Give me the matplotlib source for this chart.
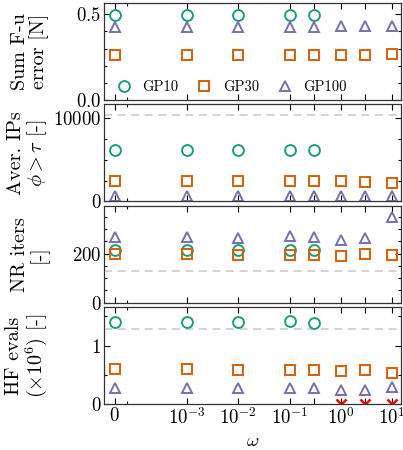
import matplotlib
matplotlib.use("Agg")
import matplotlib.pyplot as plt
from matplotlib.ticker import MultipleLocator, FixedLocator, NullFormatter

plt.rcParams['font.family'] = 'serif'
plt.rcParams['font.serif'] = ['cmr10']
plt.rcParams['mathtext.fontset'] = 'cm'
plt.rcParams['axes.formatter.use_mathtext'] = True

# omega values (0 shown in the linear part of a symlog axis)
omega = [0, 1e-3, 1e-2, 1e-1, 0.3, 1, 3, 10]
omega_gp10 = omega[:5]
omega_fail = [1, 3, 10]
tick_labels = ['$0$', '$10^{-3}$', '$10^{-2}$', '$10^{-1}$', '', '$10^{0}$', '', '$10^{1}$']

# Sum F-u error [N]
err_gp10 = [0.498, 0.498, 0.498, 0.498, 0.498]
err_gp30 = [0.263, 0.264, 0.264, 0.264, 0.264, 0.265, 0.265, 0.270]
err_gp100 = [0.425, 0.425, 0.425, 0.425, 0.425, 0.432, 0.432, 0.432]

# average number of IPs with phi > tau
ips_gp10 = [6150, 6150, 6150, 6150, 6150]
ips_gp30 = [2480, 2480, 2480, 2470, 2460, 2420, 2330, 2180]
ips_gp100 = [650, 650, 650, 650, 650, 650, 650, 650]
ips_ref = 10360

# NR iterations
nr_gp10 = [215, 214, 214, 217, 215]
nr_gp30 = [200, 199, 196, 196, 194, 190, 200, 194]
nr_gp100 = [269, 269, 263, 270, 266, 255, 262, 349]
nr_ref = 131

# HF evaluations (x 1e6)
hf_gp10 = [1.41, 1.41, 1.41, 1.424, 1.395]
hf_gp30 = [0.60, 0.606, 0.588, 0.588, 0.588, 0.566, 0.583, 0.537]
hf_gp100 = [0.27, 0.27, 0.27, 0.28, 0.275, 0.24, 0.235, 0.29]
hf_fail = [0, 0, 0]
hf_ref = 1.29

c10, c30, c100 = '#1b9e77', '#d95f02', '#7570b3'
mk = dict(ls='none', ms=7.8, mfc='none', mew=1.4)

fig, axes = plt.subplots(4, 1, figsize=(4.03, 4.5), dpi=100, sharex=True)
fig.subplots_adjust(left=0.258, right=0.995, top=0.993, bottom=0.102, hspace=0.045)

panels = [
    (err_gp10, err_gp30, err_gp100, None, 'Sum F-u\nerror [N]', (0, 0.565), 0.5, 0.1),
    (ips_gp10, ips_gp30, ips_gp100, ips_ref, 'Aver. IPs\n$\\phi > \\tau$ [-]', (0, 11600), 10000, 2500),
    (nr_gp10, nr_gp30, nr_gp100, nr_ref, 'NR iters\n[-]', (0, 395), 200, 50),
    (hf_gp10, hf_gp30, hf_gp100, hf_ref, 'HF evals\n($\\times 10^6$) [-]', (0, 1.66), 1, 0.5),
]

for ax, (y10, y30, y100, ref, lab, ylim, major, minor) in zip(axes, panels):
    if ref is not None:
        ax.axhline(ref, color='#d0d0d0', ls='--', lw=1.3, dashes=(4.5, 3), zorder=0)
    ax.plot(omega_gp10, y10, marker='o', color=c10, label='GP10', **mk)
    ax.plot(omega, y30, marker='s', color=c30, label='GP30', **mk)
    ax.plot(omega, y100, marker='^', color=c100, label='GP100', **mk)
    ax.set_ylim(*ylim)
    ax.yaxis.set_major_locator(MultipleLocator(major))
    ax.yaxis.set_minor_locator(MultipleLocator(minor))
    ax.set_ylabel(lab, fontsize=14.5, linespacing=1.0)
    ax.yaxis.set_label_coords(-0.185, 0.5)
    ax.tick_params(which='both', direction='in', top=True, right=True, labelsize=13.5,
                   width=0.8, pad=2)
    ax.tick_params(which='major', length=4)
    ax.tick_params(which='minor', length=2.2)
    for s in ax.spines.values():
        s.set_linewidth(0.9)
        s.set_color('#333333')

axes[0].yaxis.set_major_formatter(matplotlib.ticker.FormatStrFormatter('$%.1f$'))
axes[3].plot(omega_fail, hf_fail, ls='none', marker='x', color='red', ms=7.5, mew=1.8)

ax = axes[3]
ax.set_xscale('symlog', linthresh=1e-3, linscale=1.27)
ax.set_xlim(-1.5e-4, 15)
ax.xaxis.set_major_locator(FixedLocator(omega))
ax.xaxis.set_minor_locator(FixedLocator([1.67e-4]))
ax.xaxis.set_minor_formatter(NullFormatter())
ax.set_xticklabels(tick_labels)
ax.set_xlabel('$\\omega$', fontsize=13.5, labelpad=3)

axes[0].legend(loc='lower center', bbox_to_anchor=(0.43, -0.07), ncol=3, frameon=False,
               fontsize=10.5, handlelength=1.0, handletextpad=0.75, columnspacing=1.3)

fig.savefig('out.png', dpi=100)
